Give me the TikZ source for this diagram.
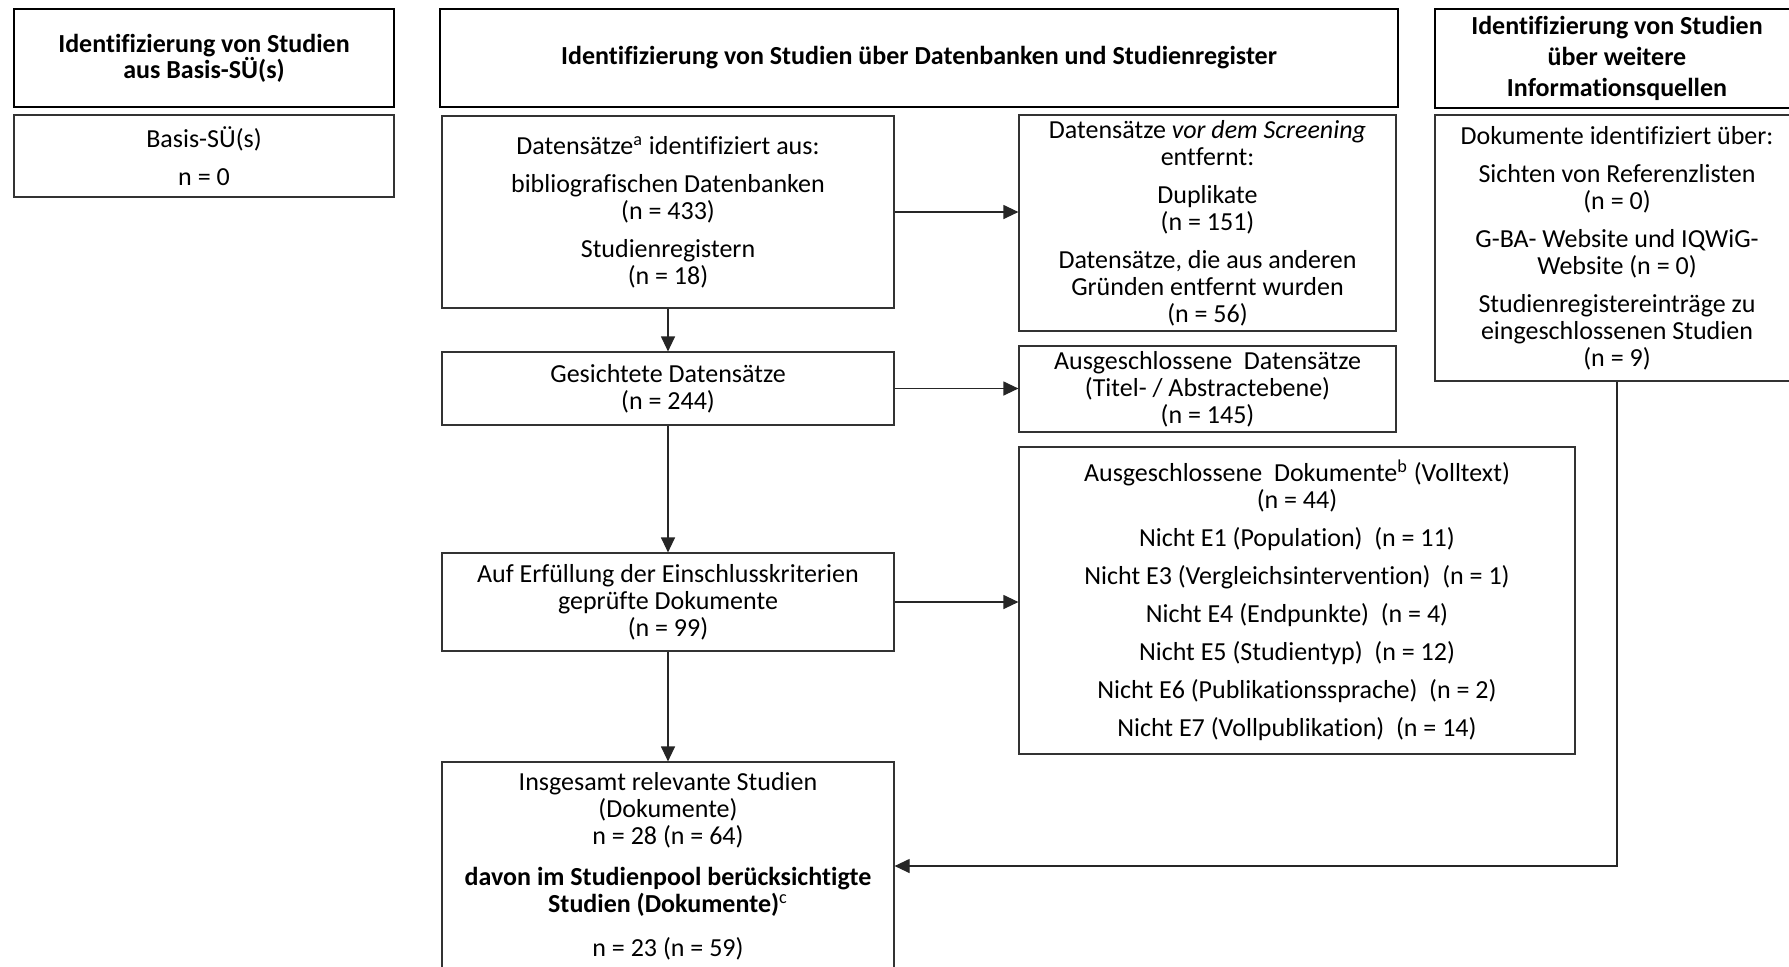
\documentclass[tikz,border=0pt]{standalone}
\usepackage{fontspec}
\setmainfont[Ligatures={NoCommon}]{Carlito}
\usetikzlibrary{arrows.meta,calc}
\begin{document}
\begin{tikzpicture}[x=0.5pt,y=-0.5pt,
  box/.style={draw=black!80, line width=0.6pt, align=center, inner sep=0pt, font=\fontsize{13}{13.5}\selectfont},
  plain/.style={align=center, inner sep=0pt, font=\fontsize{13}{13.5}\selectfont},
  hdr/.style={draw=black, line width=1.3pt, align=center, inner sep=0pt, font=\fontsize{13}{13}\selectfont\bfseries},
  conn/.style={draw=black!85, line width=0.6pt, -{Triangle[length=7.5pt,width=7pt]}},
]
\useasboundingbox (0,0) rectangle (1789,966);
\fill[white] (0,0) rectangle (1789,966);

% headers
\node[hdr, minimum width=190pt, minimum height=49pt] (hL) at (204,58) {Identifizierung von Studien\\aus Basis-SÜ(s)};
\node[hdr, minimum width=479pt, minimum height=49pt] (hM) at (919,58) {Identifizierung von Studien über Datenbanken und Studienregister};
\node[hdr, minimum width=182pt, minimum height=49.5pt, font=\fontsize{13}{15.5}\selectfont\bfseries] (hR) at (1617,58.5) {Identifizierung von Studien\\über weitere\\Informationsquellen};

% left column
\node[box, minimum width=190pt, minimum height=41pt] (bL) at (204,156) {Basis-SÜ(s)\\[5.5pt]n = 0};

% middle column
\node[box, minimum width=226pt, minimum height=96pt] (b1) at (668,212)
  {Datensätze\textsuperscript{a} identifiziert aus:\\[5.5pt]bibliografischen Datenbanken\\(n = 433)\\[5.5pt]Studienregistern\\(n = 18)};
\node[box, minimum width=226pt, minimum height=36.5pt] (b2) at (668,388.5)
  {Gesichtete Datensätze\\(n = 244)};
\node[box, minimum width=226pt, minimum height=49pt] (b3) at (668,602)
  {Auf Erfüllung der Einschlusskriterien\\geprüfte Dokumente\\(n = 99)};
\node[box, minimum width=226pt, minimum height=104pt] (b4) at (668,866) {};
\node[plain] (b4t) at (668,866)
  {Insgesamt relevante Studien\\(Dokumente)\\n = 28 (n = 64)\\[7pt]\textbf{davon im Studienpool berücksichtigte}\\\textbf{Studien (Dokumente)}\textsuperscript{c}\\[8.5pt]n = 23 (n = 59)};

% exclusion column
\node[box, minimum width=188.5pt, minimum height=108pt] (r1) at (1207.5,223)
  {Datensätze \textit{vor dem Screening}\\entfernt:\\[5.5pt]Duplikate\\(n = 151)\\[5.5pt]Datensätze, die aus anderen\\Gründen entfernt wurden\\(n = 56)};
\node[box, minimum width=188.5pt, minimum height=43pt] (r2) at (1207.5,389)
  {Ausgeschlossene\ \ Datensätze\\(Titel- / Abstractebene)\\(n = 145)};
\node[box, minimum width=278pt, minimum height=153.5pt] (r3) at (1297,600.5)
  {Ausgeschlossene\ \ Dokumente\textsuperscript{b} (Volltext)\\(n = 44)\\[5.5pt]Nicht E1 (Population)\ \ (n = 11)\\[5.5pt]Nicht E3 (Vergleichsintervention)\ \ (n = 1)\\[5.5pt]Nicht E4 (Endpunkte)\ \ (n = 4)\\[5.5pt]Nicht E5 (Studientyp)\ \ (n = 12)\\[5.5pt]Nicht E6 (Publikationssprache)\ \ (n = 2)\\[5.5pt]Nicht E7 (Vollpublikation)\ \ (n = 14)};

% right column
\node[box, minimum width=182pt, minimum height=133pt] (rb) at (1617,248)
  {Dokumente identifiziert über:\\[5.5pt]Sichten von Referenzlisten\\(n = 0)\\[5.5pt]G-BA- Website und IQWiG-\\Website (n = 0)\\[5.5pt]Studienregistereinträge zu\\eingeschlossenen Studien\\(n = 9)};

% connectors
\draw[conn] (b1) -- (b2);
\draw[conn] (b2) -- (b3);
\draw[conn] (b3) -- (b4);
\draw[conn] (b1.east) -- (b1.east -| r1.west);
\draw[conn] (b2.east) -- (b2.east -| r2.west);
\draw[conn] (b3.east) -- (b3.east -| r3.west);
\draw[conn] (rb.south) |- (b4.east);
\end{tikzpicture}
\end{document}
